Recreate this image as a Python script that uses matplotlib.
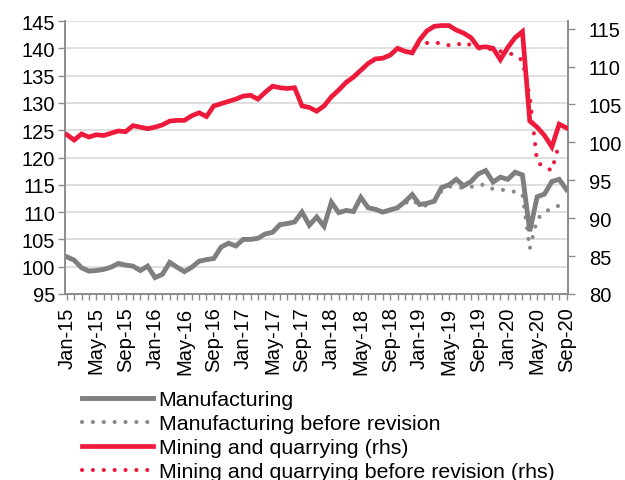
import matplotlib
matplotlib.use("Agg")
import matplotlib.pyplot as plt
import pandas as pd

plt.rcParams['font.family'] = ['Liberation Sans', 'DejaVu Sans']
plt.rcParams['font.size'] = 14.5

months = pd.date_range('2015-01-01', periods=69, freq='MS')
month_labels = [d.strftime('%b-%y') for d in months]

# Manufacturing (lhs)
manufacturing = [101.8, 101.2, 99.8, 99.2, 99.3, 99.5, 99.9, 100.6, 100.3, 100.1,
                 99.3, 100.1, 98.0, 98.6, 100.8, 99.9, 99.1, 99.9, 101.0, 101.3,
                 101.5, 103.6, 104.3, 103.8, 105.0, 105.0, 105.2, 106.0, 106.3, 107.7,
                 107.9, 108.2, 110.0, 107.6, 109.1, 107.4, 111.8, 109.9, 110.3, 110.1,
                 112.7, 110.8, 110.5, 110.0, 110.4, 110.8, 111.9, 113.2, 111.4, 111.6,
                 112.0, 114.5, 115.0, 116.0, 114.8, 115.6, 117.0, 117.6, 115.5, 116.4,
                 116.0, 117.3, 116.8, 106.5, 112.8, 113.3, 115.6, 116.0, 114.1]

# Manufacturing before revision, Jan-18 to Aug-20
manufacturing_old = [111.8, 109.9, 110.3, 110.1, 112.7, 110.8, 110.5, 110.0, 110.2, 110.7,
                     111.6, 112.3, 111.2, 111.2, 112.0, 113.9, 114.7, 114.6, 114.4, 114.6,
                     115.0, 115.0, 114.2, 114.1, 114.0, 113.7, 113.3, 103.3, 108.7, 110.0,
                     110.7, 111.2]

# Mining and quarrying (rhs)
mining = [101.0, 100.3, 101.1, 100.7, 101.0, 100.9, 101.2, 101.5, 101.4, 102.2,
          102.0, 101.8, 102.0, 102.3, 102.8, 102.9, 102.9, 103.5, 103.9, 103.4,
          104.8, 105.1, 105.4, 105.7, 106.1, 106.2, 105.7, 106.6, 107.4, 107.2,
          107.1, 107.2, 104.8, 104.6, 104.1, 104.8, 106.0, 106.9, 107.9, 108.6,
          109.5, 110.4, 111.0, 111.1, 111.5, 112.4, 112.0, 111.8, 113.5, 114.7,
          115.3, 115.4, 115.4, 114.8, 114.4, 113.8, 112.5, 112.6, 112.4, 110.9,
          112.5, 113.8, 114.6, 102.8, 102.0, 100.9, 99.4, 102.4, 101.9]

# Mining and quarrying before revision (rhs), Jan-18 to Aug-20
mining_old = [106.0, 106.9, 107.9, 108.6, 109.5, 110.4, 111.0, 111.1, 111.5, 112.4,
              112.0, 111.8, 113.2, 113.1, 113.2, 113.0, 112.8, 112.8, 113.2, 112.8,
              112.4, 112.3, 112.3, 112.0, 111.8, 111.5, 110.8, 106.0, 97.4, 96.7,
              96.3, 99.8]

grey = '#7f7f7f'
red = '#ee1a3c'
axis_grey = '#8c8c8c'

x = list(range(len(months)))
x_old = x[36:36 + len(manufacturing_old)]

fig = plt.figure(figsize=(6.25, 4.81), dpi=100)
ax = fig.add_axes([65 / 625, 1 - 295 / 481, (568 - 65) / 625, (295 - 22) / 481])
ax2 = ax.twinx()

dot = (0, (0.01, 2.6))
l1, = ax.plot(x, manufacturing, color=grey, lw=3.5, solid_joinstyle='miter', zorder=3)
l2, = ax.plot(x_old, manufacturing_old, color='#8a8a8a', lw=3.0, linestyle=dot,
              dash_capstyle='round', zorder=2)
l3, = ax2.plot(x, mining, color=red, lw=3.4, solid_joinstyle='miter', zorder=3)
l4, = ax2.plot(x_old, mining_old, color=red, lw=3.0, linestyle=dot,
               dash_capstyle='round', zorder=2)

ax.set_ylim(95, 145)
ax.set_yticks(range(95, 146, 5))
ax2.set_ylim(80, 116)
ax2.set_yticks(range(80, 116, 5))
ax.set_xlim(-0.25, 68.2)
ax.set_xticks(x)
ax.set_xticklabels([lab if i % 4 == 0 else '' for i, lab in enumerate(month_labels)],
                   rotation=90)

ax.grid(axis='y', color='#d9d9d9', lw=1.2)
ax.set_axisbelow(True)

for a in (ax, ax2):
    a.spines['top'].set_visible(False)
    for s in ('left', 'right', 'bottom'):
        a.spines[s].set_color(axis_grey)
        a.spines[s].set_linewidth(1.2)
    a.tick_params(color=axis_grey, width=1.0, length=4, labelsize=14.5)
ax.tick_params(axis='y', length=5, pad=2)
ax.tick_params(axis='x', pad=5)
ax2.tick_params(axis='y', length=5, pad=10)

fig.legend([l1, l2, l3, l4],
           ['Manufacturing', 'Manufacturing before revision',
            'Mining and quarrying (rhs)', 'Mining and quarrying before revision (rhs)'],
           loc='upper left', bbox_to_anchor=(82 / 625, 1 - 391 / 481),
           frameon=False, borderpad=0, borderaxespad=0, handlelength=3.3,
           handletextpad=0.28, labelspacing=0.24, fontsize=15.4)

fig.savefig('out.png', dpi=100)
